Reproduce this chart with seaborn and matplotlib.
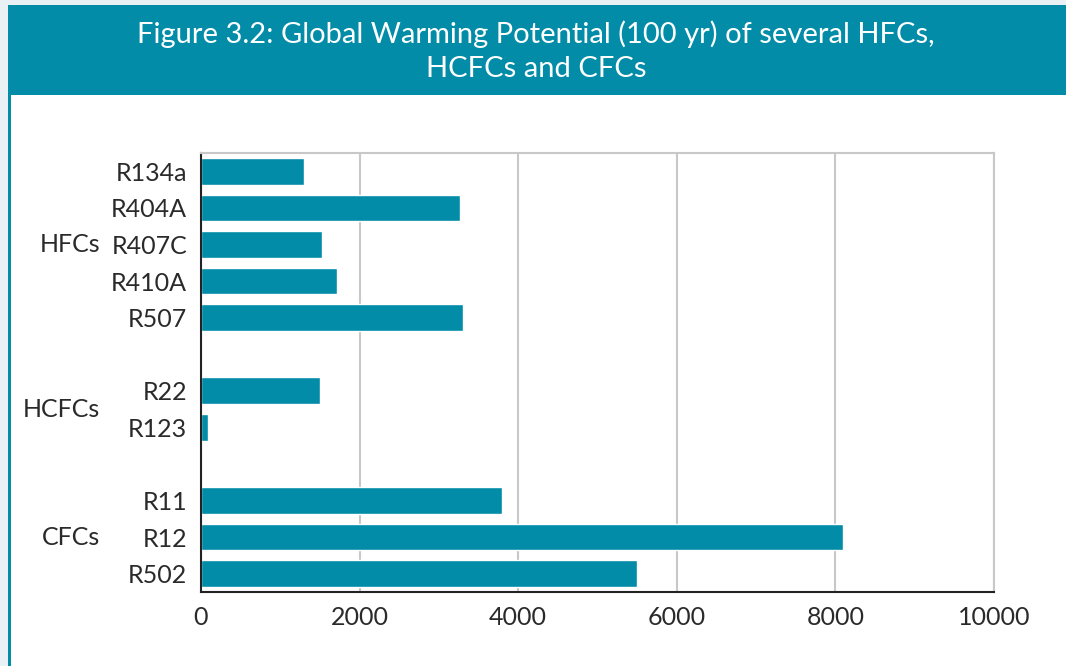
#################################################################
# Import Libraries
#################################################################
import pandas as pd
import matplotlib
matplotlib.use("Agg")
import matplotlib.pyplot as plt
import matplotlib.transforms as mtransforms
from matplotlib.patches import Rectangle
import seaborn as sns

#################################################################
# Data
#################################################################
refrigerants = ["R134a", "R404A", "R407C", "R410A", "R507",
                "R22", "R123",
                "R11", "R12", "R502"]
gwp_values = [1300, 3260, 1530, 1720, 3300,
              1500, 93,
              3800, 8100, 5500]
families = ["HFCs"] * 5 + ["HCFCs"] * 2 + ["CFCs"] * 3

# blank slots between groups
slot_order = ["R134a", "R404A", "R407C", "R410A", "R507", " ",
              "R22", "R123", "  ",
              "R11", "R12", "R502"]

group_names = ["HFCs", "HCFCs", "CFCs"]
x_ticks = [0, 2000, 4000, 6000, 8000, 10000]

title = "Figure 3.2: Global Warming Potential (100 yr) of several HFCs,\nHCFCs and CFCs"

df = pd.DataFrame({"Refrigerant": refrigerants,
                   "GWP": gwp_values,
                   "Family": families})

#################################################################
# Style
#################################################################
teal = "#028ca8"
sns.set_style("white")
plt.rcParams["font.family"] = ["Lato", "DejaVu Sans"]

fig = plt.figure(figsize=(10.66, 6.66), dpi=100)
fig.patch.set_facecolor("#e9f1f4")

# white panel + teal header band
fig.add_artist(Rectangle((8 / 1066, 0), 1, 1 - 95 / 666,
                         transform=fig.transFigure, facecolor="white",
                         edgecolor="none", zorder=0))
fig.add_artist(Rectangle((8 / 1066, 0), 2.5 / 1066, 1 - 95 / 666,
                         transform=fig.transFigure, facecolor=teal,
                         edgecolor="none", zorder=0))
fig.add_artist(Rectangle((8 / 1066, 1 - 95 / 666), 1, 90 / 666,
                         transform=fig.transFigure, facecolor=teal,
                         edgecolor="none", zorder=0))
fig.text(0.503, 1 - 51 / 666, title, color="white", fontsize=21,
         ha="center", va="center", linespacing=1.4)

#################################################################
# Bar chart
#################################################################
ax = fig.add_axes([201 / 1066, 1 - 592 / 666, 793 / 1066, 439 / 666])
ax.set_facecolor("white")

sns.barplot(data=df, x="GWP", y="Refrigerant", order=slot_order,
            color=teal, saturation=1, width=0.73, orient="h", ax=ax)

ax.set_xlim(0, 10000)
ax.set_xticks(x_ticks)
ax.set_xticklabels([str(t) for t in x_ticks], fontsize=18, color="#2a2a2a")
ax.set_xlabel("")
ax.set_ylabel("")
ax.tick_params(axis="y", length=0, pad=10, labelsize=18, labelcolor="#2a2a2a")
ax.tick_params(axis="x", direction="in", length=7, width=1.2, color="#222222", pad=10)

ax.grid(axis="x", color="#c8c8c8", linewidth=1.5)
ax.set_axisbelow(True)
for side in ["top", "right"]:
    ax.spines[side].set_color("#c8c8c8")
    ax.spines[side].set_linewidth(1.5)
for side in ["left", "bottom"]:
    ax.spines[side].set_color("#222222")
    ax.spines[side].set_linewidth(1.5)

# group labels to the left of the tick labels
trans = mtransforms.blended_transform_factory(ax.transAxes, ax.transData)
group_pos = [slot_order.index("R407C"),
             (slot_order.index("R22") + slot_order.index("R123")) / 2,
             slot_order.index("R12")]
for name, pos in zip(group_names, group_pos):
    ax.text(-0.127, pos, name, transform=trans, ha="right", va="center",
            fontsize=18, color="#2a2a2a")

fig.savefig("out.png", dpi=100, facecolor=fig.get_facecolor())
